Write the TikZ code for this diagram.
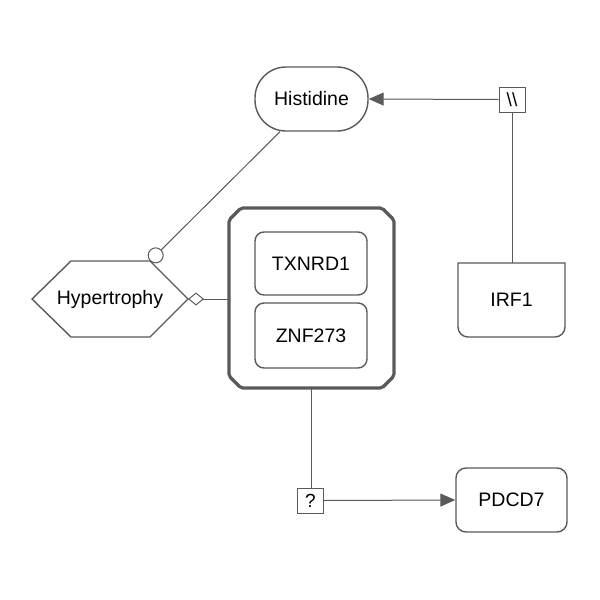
\documentclass[tikz,border=0pt]{standalone}
\usepackage{fontspec}
\setmainfont{Liberation Sans}
\usetikzlibrary{arrows.meta}
\definecolor{ln}{HTML}{5A5A5A}
\tikzset{
  lbl/.style={font=\fontsize{19.5}{23}\selectfont, text=black},
  ent/.style={lbl, draw=ln, line width=1.4pt, fill=white, inner sep=0pt},
  gene/.style={ent, rounded corners=9pt},
  conn/.style={draw=ln, line width=1pt},
  sbox/.style={draw=ln, line width=1pt, fill=white, inner sep=0pt,
    minimum width=26pt, minimum height=25pt, font=\fontsize{19}{22}\selectfont},
  tri/.style={-{Triangle[length=15pt,width=13pt]}},
  circtip/.style={-{Circle[open,length=16pt,width=16pt,fill=white]}},
  diatip/.style={-{Diamond[open,length=16pt,width=13pt,fill=white]}}
}
\begin{document}
\begin{tikzpicture}[x=1pt,y=-1pt]
\useasboundingbox[fill=white] (0,0) rectangle (600,600);

% Histidine
\node[ent, rounded corners=31pt, minimum width=113pt, minimum height=64pt] (hist) at (311.5,99) {Histidine};

% \\ box
\node[sbox] (bs) at (512,99.5) {\textbackslash\textbackslash};

% IRF1 (bottom corners rounded)
\node[lbl, minimum width=107pt, minimum height=74pt, inner sep=0pt] (irf) at (511.5,300) {};
\draw[draw=ln, line width=1.4pt, fill=white] (458,263) -- (458,327) arc[start angle=180, end angle=90, radius=10]
  -- (555,337) arc[start angle=90, end angle=0, radius=10] -- (565,263) -- cycle;
\node[lbl] at (irf.center) {IRF1};

% Hypertrophy hexagon
\node[lbl, minimum width=156pt, minimum height=76pt, inner sep=0pt] (hyp) at (110,299) {};
\draw[draw=ln, line width=1.4pt, fill=white] (32,299) -- (71,261) -- (150,261) -- (188,299) -- (150,337) -- (71,337) -- cycle;
\node[lbl] at (hyp.center) {Hypertrophy};
\coordinate (hypTR) at (150,261);
\coordinate (hypR) at (188,299);

% Complex
\node[minimum width=165pt, minimum height=180pt, inner sep=0pt] (cplx) at (311.5,298) {};
\draw[draw=ln, line width=3.2pt, fill=white, rounded corners=2pt]
  (241,208) -- (382,208) -- (394,220) -- (394,376) -- (382,388) -- (241,388) -- (229,376) -- (229,220) -- cycle;
\node[gene, minimum width=112pt, minimum height=63pt] (tx) at (311,263.5) {TXNRD1};
\node[gene, minimum width=112pt, minimum height=65pt] (znf) at (311,335.5) {ZNF273};

% ? box and PDCD7
\node[sbox] (qb) at (310.5,500.5) {?};
\node[gene, rounded corners=10pt, minimum width=111pt, minimum height=64pt] (pd) at (511.5,500) {PDCD7};

% connectors
\draw[conn, tri, fill=ln] (bs.west) -- (hist.east);
\draw[conn] (bs.south) -- (bs.south |- irf.north);
\coordinate (histBL) at ([xshift=-31.5pt]hist.south);
\draw[conn, circtip] (histBL) -- (hypTR);
\draw[conn, diatip] (cplx.west |- hypR) -- (hypR);
\coordinate (cb) at (311,388);
\draw[conn] (cb) -- (cb |- qb.north);
\draw[conn, tri, fill=ln] (qb.east) -- (pd.west);
\end{tikzpicture}
\end{document}
